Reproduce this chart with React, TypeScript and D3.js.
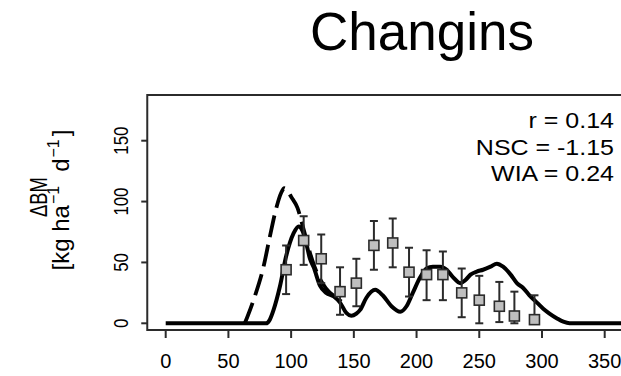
import React from 'react';
import * as d3 from 'd3';

// ---- data ----
const title = 'Changins';
const statLabels = ['r = 0.14', 'NSC = -1.15', 'WIA = 0.24'];
const xTickValues = [0, 50, 100, 150, 200, 250, 300, 350];
const yTickValues = [0, 50, 100, 150];

// simulated (solid) curve
const simDay = [0, 80, 83, 86, 91, 96, 102, 106, 109, 112, 115, 118, 123, 128, 134, 139, 144, 148, 152, 155, 160, 167, 173, 180, 187, 192, 197, 203, 208, 213, 219, 224, 229, 235, 239, 243, 248, 253, 259, 264, 269, 275, 280, 285, 290, 296, 301, 306, 312, 317, 322, 365];
const simVal = [0, 0, 3, 11, 30, 55, 74, 79.5, 76, 66, 53, 46, 31, 25, 22, 17, 8.5, 6.2, 8, 11, 21, 27.5, 23, 14, 9.5, 14, 25, 38, 45, 46.5, 46.5, 44, 38, 33, 35.5, 40, 42.5, 44, 46.5, 49, 46.5, 40, 33, 29, 23, 17, 12, 8, 4, 1.3, 0, 0];

// reference (dashed) curve
const refDay = [63, 65, 71, 78, 83, 88.5, 92, 94.5, 97, 100, 105, 110, 115, 120, 125, 130, 135, 140];
const refVal = [0, 5, 22, 46.5, 71, 96, 107, 111, 109, 104, 95, 77, 58, 43, 33, 26, 22, 18];

// observations with error bars
const obsDay = [96, 110, 124, 139, 152, 166, 181, 194, 208, 221, 236, 250, 266, 278, 294];
const obsVal = [44, 68, 53, 26, 33, 64, 66, 42, 40, 40, 25, 19, 14, 6, 3];
const obsUpper = [64, 88, 73, 46, 53, 84, 86, 62, 60, 59, 45, 39, 34, 26, 23];
const obsLower = [24, 48, 33, 7, 14, 44, 46, 22, 19, 19, 5, 0, 1, 0, 0];

const FONT = '"Liberation Sans", Arial, Helvetica, sans-serif';

export default function App() {
  const W = 621;
  const H = 376;
  const x = d3.scaleLinear().domain([0, 350]).range([165.7, 604.7]);
  const y = d3.scaleLinear().domain([0, 150]).range([323.3, 140.7]);
  const boxL = x(-14.7);
  const boxR = x(379.6);
  const boxT = 95;
  const boxB = 330;

  const line = d3
    .line<[number, number]>()
    .x((d) => x(d[0]))
    .y((d) => y(d[1]))
    .curve(d3.curveMonotoneX);

  const simPts: [number, number][] = simDay.map((d, i) => [d, simVal[i]]);
  const refPts: [number, number][] = refDay.map((d, i) => [d, refVal[i]]);

  const axisColor = '#2b2b2b';
  const cap = 4;
  const sq = 10;

  return (
    <svg
      width={W}
      height={H}
      style={{ position: 'absolute', left: 0, top: 0, background: '#fff' }}
      fontFamily={FONT}
    >
      <defs>
        <clipPath id="plotclip">
          <rect x={boxL} y={boxT} width={boxR - boxL} height={boxB - boxT} />
        </clipPath>
      </defs>

      <text x={422} y={50} fontSize={53} textAnchor="middle" fill="#000">
        {title}
      </text>

      {/* y axis title */}
      <g transform={`translate(47,197) rotate(-90) scale(0.8,1)`}>
        <text fontSize={23} textAnchor="middle" fill="#000">ΔBM</text>
      </g>
      <g transform={`translate(69,200) rotate(-90)`}>
        <text fontSize={24} textAnchor="middle" fill="#000">
          [kg ha
          <tspan fontSize={16} dy={-10} dx={1}>−1</tspan>
          <tspan dy={10} dx={14}>d</tspan>
          <tspan fontSize={16} dy={-10} dx={1}>−1</tspan>
          <tspan dy={10} dx={3}>]</tspan>
        </text>
      </g>

      <g clipPath="url(#plotclip)">
        <path d={line(refPts) || ''} fill="none" stroke="#000" strokeWidth={3.8} strokeDasharray="22,8" />
        <path d={line(simPts) || ''} fill="none" stroke="#000" strokeWidth={4} strokeLinejoin="round" />
        {obsDay.map((d, i) => (
          <g key={'e' + i} stroke={axisColor} strokeWidth={2}>
            <line x1={x(d)} x2={x(d)} y1={y(obsLower[i])} y2={y(obsUpper[i])} />
            <line x1={x(d) - cap} x2={x(d) + cap} y1={y(obsLower[i])} y2={y(obsLower[i])} />
            <line x1={x(d) - cap} x2={x(d) + cap} y1={y(obsUpper[i])} y2={y(obsUpper[i])} />
          </g>
        ))}
        {obsDay.map((d, i) => (
          <rect
            key={'s' + i}
            x={x(d) - sq / 2}
            y={y(obsVal[i]) - sq / 2}
            width={sq}
            height={sq}
            fill="#bfbfbf"
            stroke={axisColor}
            strokeWidth={1.6}
          />
        ))}
      </g>

      {/* box */}
      <rect x={boxL} y={boxT} width={boxR - boxL} height={boxB - boxT} fill="none" stroke={axisColor} strokeWidth={2} />

      {/* x axis */}
      {xTickValues.map((v) => (
        <g key={'x' + v}>
          <line x1={x(v)} x2={x(v)} y1={boxB} y2={boxB + 8} stroke={axisColor} strokeWidth={2} />
          <text x={x(v)} y={368} fontSize={20} textAnchor="middle" fill="#000">
            {v}
          </text>
        </g>
      ))}

      {/* y axis */}
      {yTickValues.map((v) => (
        <g key={'y' + v}>
          <line x1={boxL - 6} x2={boxL} y1={y(v)} y2={y(v)} stroke={axisColor} strokeWidth={2} />
          <g transform={`translate(128.3,${y(v)}) rotate(-90) scale(0.8,1)`}>
            <text fontSize={21} textAnchor="middle" fill="#000">
              {v}
            </text>
          </g>
        </g>
      ))}

      {/* statistics */}
      {statLabels.map((s, i) => (
        <g key={'st' + i} transform={`translate(614,${[128.3, 154.6, 181][i]}) scale(1,0.9)`}>
          <text fontSize={25} textAnchor="end" fill="#000">
            {s}
          </text>
        </g>
      ))}
    </svg>
  );
}
